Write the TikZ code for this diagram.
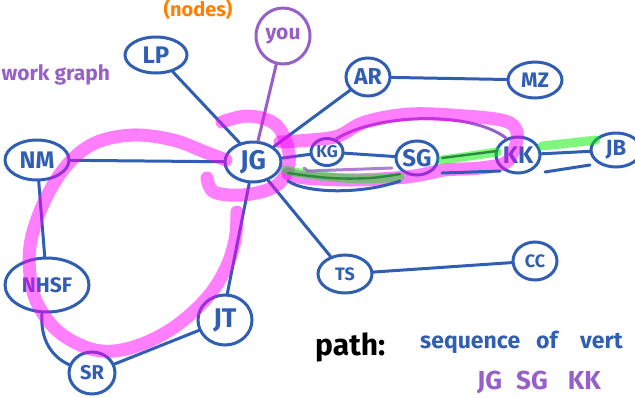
\documentclass[tikz,border=0pt]{standalone}
\usepackage{fontspec}
\setmainfont{Fira Sans}
\usetikzlibrary{shapes.geometric}
\definecolor{penblue}{RGB}{47,94,178}
\definecolor{penpurple}{RGB}{150,96,200}
\definecolor{penorange}{RGB}{255,128,0}
\definecolor{hlmagenta}{RGB}{255,0,255}
\definecolor{hlgreen}{RGB}{0,240,0}
\definecolor{pengreen}{RGB}{40,140,60}
\newcommand\setfs[1]{\fontsize{#1}{#1}\selectfont\bfseries}

\begin{document}
\begin{tikzpicture}[x=1pt,y=-1pt,
  vtx/.style={ellipse, draw=penblue, line width=3pt, inner sep=0pt, text=penblue},
  edge/.style={draw=penblue, line width=3pt, line cap=round, line join=round},
  pedge/.style={draw=penpurple, line width=3pt, line cap=round},
  hlpink/.style={draw=hlmagenta, opacity=0.5, line width=13pt, line cap=round, line join=round},
  hlgrn/.style={draw=hlgreen, opacity=0.5, line width=9pt, line cap=round, line join=round},
]
\useasboundingbox (0,0) rectangle (635,397);

% vertices
\node[vtx, minimum width=62pt, minimum height=36pt, font=\setfs{24}] (LP) at (156,55) {LP};
\node[vtx, draw=penpurple, text=penpurple, minimum width=54pt, minimum height=56pt, font=\setfs{21}] (YOU) at (283,36) {you};
\node[vtx, minimum width=44pt, minimum height=38pt, font=\setfs{23}] (AR) at (368,77) {AR};
\node[vtx, minimum width=54pt, minimum height=36pt, font=\setfs{21}] (MZ) at (535,80) {MZ};
\node[vtx, minimum width=64pt, minimum height=40pt, font=\setfs{24}] (NM) at (37,160) {NM};
\node[vtx, minimum width=56pt, minimum height=40pt, font=\setfs{27}] (JG) at (253,162) {JG};
\node[vtx, minimum width=32pt, minimum height=27pt, font=\setfs{17}] (KG) at (327,152) {KG};
\node[vtx, minimum width=42pt, minimum height=34pt, font=\setfs{24}] (SG) at (417,158) {SG};
\node[vtx, minimum width=44pt, minimum height=36pt, font=\setfs{24}] (KK) at (518,155) {KK};
\node[vtx, minimum width=50pt, minimum height=34pt, font=\setfs{22}] (JB) at (616,150) {JB};
\node[vtx, minimum width=84pt, minimum height=54pt, font=\setfs{21}] (NHSF) at (47,285) {NHSF};
\node[vtx, minimum width=54pt, minimum height=50pt, font=\setfs{27}] (JT) at (225,320) {JT};
\node[vtx, minimum width=46pt, minimum height=42pt, font=\setfs{20}] (SR) at (92,373) {SR};
\node[vtx, minimum width=54pt, minimum height=38pt, font=\setfs{18}] (TS) at (345,274) {TS};
\node[vtx, minimum width=44pt, minimum height=38pt, font=\setfs{18}] (CC) at (535,261) {CC};

% edges
\draw[edge] (LP.-45) -- (JG.125);
\draw[pedge] (YOU) -- (JG);
\draw[edge] (AR) -- (JG);
\draw[edge] (AR) -- (MZ);
\draw[edge] (NM) -- (JG);
\draw[edge] (NM) -- (NHSF);
\draw[edge] (NHSF.-100) .. controls (40,340) and (52,357) .. (SR.160);
\draw[edge] (SR) -- (JT);
\draw[edge] (JT.85) -- (JG.-100);
\draw[edge] (JG) -- (TS);
\draw[edge] (TS) -- (CC);
\draw[edge] (JG) -- (KG);
\draw[edge] (KG) -- (SG);
\draw[edge] (KK) -- (JB);
\draw[pedge] (KG.55) .. controls (375,114) and (470,110) .. (KK.125);

% highlighted cycle and path
\draw[hlpink] plot[smooth, tension=0.6] coordinates {(226,160) (205,152) (173,140) (133,135) (95,143) (67,165) (45,200) (31,240) (30,275) (38,305) (60,333) (95,350) (130,348) (170,330) (205,300) (225,270) (235,240) (237,212)};
\draw[hlpink] plot[smooth, tension=0.6] coordinates {(222,122) (248,116) (275,124) (288,148) (287,172) (272,188) (242,195) (214,192) (207,178)};
\draw[hlpink] plot[smooth, tension=0.6] coordinates {(280,142) (310,140) (338,136) (365,122) (410,114) (465,116) (505,121) (517,132) (514,150) (505,163) (480,168) (445,170) (420,175) (395,178) (350,180) (305,178) (288,174)};
\draw[hlgrn] plot[smooth, tension=0.6] coordinates {(286,170) (300,173) (330,177) (365,179) (400,177)};
\draw[hlgrn] (442,160) -- (470,156) -- (497,152);
\draw[hlgrn] (542,146) -- (570,143) -- (596,140);
\draw[draw=pengreen, line width=2.4pt, line cap=round] plot[smooth, tension=0.6] coordinates {(288,173) (330,178) (370,178) (400,174)};
\draw[draw=pengreen, line width=2.4pt, line cap=round] (442,158) -- (497,151);

% underlines of the path
\draw[draw=penpurple, opacity=0.8, line width=3pt, line cap=round] (304,168) -- (308,171) -- (392,168);
\draw[edge] (288,181) .. controls (305,193) and (360,195) .. (400,181);
\draw[edge] (442,173) -- (500,171);
\draw[edge] (545,172) -- (590,165);

% captions
\node[text=penorange, font=\setfs{20}] (nodeslbl) at (198,9) {(nodes)};
\node[text=penpurple, anchor=west, font=\setfs{21}] (graphlbl) at (-2,75) {work graph};
\node[anchor=base west, font=\setfs{30}, inner sep=0pt] (pathlbl) at (315,355) {path:};
\node[text=penblue, anchor=base west, font=\setfs{23}, inner sep=0pt] (seqlbl) at (420,348) {sequence};
\node[text=penblue, anchor=base west, font=\setfs{23}, inner sep=0pt] (oflbl) at (536,348) {of};
\node[text=penblue, anchor=base west, font=\setfs{23}, inner sep=0pt] (vertlbl) at (580,348) {vert};
\node[text=penpurple, anchor=base west, font=\setfs{26}, inner sep=0pt] (pathnodes) at (477,389) {JG\hspace{14pt}SG\hspace{20pt}KK};
\end{tikzpicture}
\end{document}
